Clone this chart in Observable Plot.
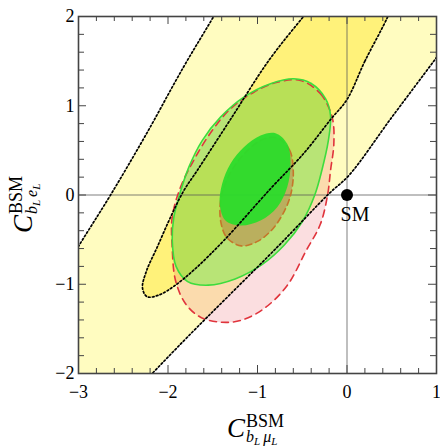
<!DOCTYPE html>
<html><head><meta charset="utf-8">
<script src="https://cdn.jsdelivr.net/npm/d3@7"></script>
<script src="https://cdn.jsdelivr.net/npm/@observablehq/plot@0.6"></script>
<style>body{margin:0;background:#fff} #chart svg text{font-family:"Liberation Serif","DejaVu Serif",serif}</style>
</head><body><div id="chart"></div>
<script>
// tick values
const xMajorTicks = [-3, -2, -1, 0, 1];
const yMajorTicks = [-2, -1, 0, 1, 2];
const xMinorTicks = [-2.8, -2.6, -2.4, -2.2, -1.8, -1.6, -1.4, -1.2, -0.8, -0.6, -0.4, -0.2, 0.2, 0.4, 0.6, 0.8];
const yMinorTicks = [-1.8, -1.6, -1.4, -1.2, -0.8, -0.6, -0.4, -0.2, 0.2, 0.4, 0.6, 0.8, 1.2, 1.4, 1.6, 1.8];

// contour outlines, [C_bLmuL, C_bLeL]
const outerBand = [[-3.6,-1.58],[-3.3,-1.08],[-3.0,-0.575],[-2.642,0.0],[-2.25,0.67],[-1.823,1.44],[-1.49,2.0],[-1.2,2.5],[-0.9,3.0],
  [0.3,3.4],[1.4,2.9],[1.6,2.35],[1.3,1.95],[0.989,1.526],[0.5,0.87],[0.02,0.218],[-0.203,0.013],[-0.78,-0.585],[-1.785,-1.594],
  [-2.177,-2.0],[-2.5,-2.33],[-2.8,-2.65],[-3.4,-2.9],[-3.8,-2.4]];
const innerBand = [[0.456,2.0],[0.2,1.5],[0.0,1.07],[-0.18,0.85],[-0.48,0.47],[-0.855,0.07],[-1.376,-0.51],[-1.70,-0.83],[-1.93,-1.02],
  [-2.10,-1.12],[-2.233,-1.14],[-2.285,-1.04],[-2.24,-0.85],[-2.121,-0.585],[-1.972,-0.249],[-1.823,0.05],[-1.674,0.274],[-1.3,0.85],
  [-0.874,1.507],[-0.486,2.0],[-0.15,2.4],[0.2,2.6],[0.45,2.5],[0.55,2.25]];
const redOuter = [[-0.52,1.283],[-0.296,1.134],[-0.166,0.872],[-0.147,0.574],[-0.184,0.275],[-0.215,0.013],[-0.296,-0.323],[-0.46,-0.63],
  [-0.668,-1.014],[-0.93,-1.275],[-1.19,-1.406],[-1.413,-1.425],[-1.637,-1.369],[-1.804,-1.219],[-1.916,-0.958],[-1.953,-0.585],
  [-1.953,-0.249],[-1.86,0.088],[-1.693,0.424],[-1.506,0.723],[-1.302,0.966],[-1.041,1.152],[-0.78,1.264]];
const greenOuter = [[-0.594,1.302],[-0.40,1.25],[-0.24,1.08],[-0.184,0.89],[-0.21,0.60],[-0.28,0.28],[-0.36,0.0],[-0.50,-0.30],[-0.70,-0.56],
  [-0.95,-0.78],[-1.25,-0.94],[-1.55,-1.01],[-1.78,-0.97],[-1.91,-0.80],[-1.953,-0.50],[-1.935,-0.25],[-1.879,-0.024],[-1.767,0.312],
  [-1.618,0.61],[-1.413,0.872],[-1.153,1.096],[-0.855,1.246]];
const brownInner = [[-0.78,0.64],[-0.64,0.50],[-0.60,0.25],[-0.63,0.0],[-0.70,-0.18],[-0.83,-0.38],[-1.0,-0.52],[-1.18,-0.57],[-1.34,-0.48],
  [-1.41,-0.30],[-1.41,-0.05],[-1.32,0.22],[-1.15,0.46],[-0.95,0.62]];
const greenInner = [[-0.799,0.693],[-0.668,0.574],[-0.631,0.35],[-0.668,0.088],[-0.78,-0.137],[-0.966,-0.286],[-1.19,-0.342],[-1.358,-0.286],
  [-1.422,-0.099],[-1.395,0.125],[-1.302,0.35],[-1.153,0.536],[-0.966,0.667]];
const smPoint = [{x: 0, y: 0, label: "SM"}];

const pts = a => a.map(([x, y]) => ({x, y}));
const curve = "catmull-rom-closed";
const shape = (a, o) => Plot.line(pts(a), {x: "x", y: "y", curve, clip: true, ...o});

const W = 440, H = 447, mL = 78, mR = 4, mT = 16, mB = 74;
const fw = W - mL - mR, fh = H - mT - mB;
const tickColor = "#444";
const serif = "'Liberation Serif', 'DejaVu Serif', serif";

const plot = Plot.plot({
  width: W, height: H, marginLeft: mL, marginRight: mR, marginTop: mT, marginBottom: mB,
  x: {domain: [-3, 1], label: null},
  y: {domain: [-2, 2], label: null},
  style: {fontFamily: serif, fontSize: "17px", background: "white", color: "black"},
  marks: [
    shape(outerBand, {fill: "#fffcc0", stroke: "none"}),
    shape(innerBand, {fill: "#fff27a", stroke: "none"}),
    shape(redOuter, {fill: "rgb(235,90,100)", fillOpacity: 0.2, stroke: "none"}),
    shape(greenOuter, {fill: "rgb(102,239,52)", fillOpacity: 0.45, stroke: "none"}),
    shape(brownInner, {fill: "rgb(190,95,60)", fillOpacity: 0.4, stroke: "none"}),
    Plot.ruleY([0], {stroke: "#555", strokeOpacity: 0.5, strokeWidth: 1.5}),
    Plot.ruleX([0], {stroke: "#555", strokeOpacity: 0.5, strokeWidth: 1.5}),
    shape(brownInner, {stroke: "#c4762a", strokeWidth: 1.6, strokeDasharray: "6,4"}),
    shape(greenInner, {fill: "#2bdc2b", fillOpacity: 0.95, stroke: "none"}),
    shape(redOuter, {stroke: "#e0343c", strokeWidth: 1.6, strokeDasharray: "7,5"}),
    shape(greenOuter, {stroke: "#3ddc3d", strokeWidth: 1.6}),
    shape(innerBand, {stroke: "black", strokeWidth: 1.7, strokeDasharray: "1.7,2.3"}),
    shape(outerBand, {stroke: "black", strokeWidth: 1.7, strokeDasharray: "1.7,2.3"}),
    Plot.dot(smPoint, {x: "x", y: "y", r: 6, fill: "black"}),
    Plot.text(smPoint, {x: "x", y: "y", text: "label", dx: 8, dy: 20, fontSize: 20, textAnchor: "middle", fontFamily: serif}),
    // inward ticks
    Plot.tickX(xMinorTicks, {x: d => d, insetTop: fh - 5, stroke: tickColor}),
    Plot.tickX(xMajorTicks, {x: d => d, insetTop: fh - 8, stroke: tickColor}),
    Plot.tickX(xMinorTicks, {x: d => d, insetBottom: fh - 5, stroke: tickColor}),
    Plot.tickX(xMajorTicks, {x: d => d, insetBottom: fh - 8, stroke: tickColor}),
    Plot.tickY(yMinorTicks, {y: d => d, insetRight: fw - 6, stroke: tickColor}),
    Plot.tickY(yMajorTicks, {y: d => d, insetRight: fw - 8, stroke: tickColor}),
    Plot.tickY(yMinorTicks, {y: d => d, insetLeft: fw - 6, stroke: tickColor}),
    Plot.tickY(yMajorTicks, {y: d => d, insetLeft: fw - 8, stroke: tickColor}),
    Plot.frame({stroke: tickColor, strokeWidth: 1.6}),
    Plot.axisX(xMajorTicks, {anchor: "bottom", tickSize: 0, tickPadding: 12, fontSize: 18, fontFamily: serif, tickFormat: "d", label: null}),
    Plot.axisY(yMajorTicks, {anchor: "left", tickSize: 0, tickPadding: 4, fontSize: 18, fontFamily: serif, tickFormat: "d", label: null})
  ]
});

document.getElementById("chart").appendChild(plot);

// axis titles C^BSM_{bL muL} and C^BSM_{bL eL}
const svg = d3.select(plot);
function axisTitle(transform, second) {
  const g = svg.append("g").attr("transform", transform)
    .attr("font-family", serif).attr("fill", "black").attr("text-anchor", "start");
  g.append("text").attr("x", 0).attr("y", 0).attr("font-size", 27).attr("font-style", "italic").text("C");
  g.append("text").attr("x", 19).attr("y", -10).attr("font-size", 18).text("BSM");
  const s = g.append("text").attr("x", 19).attr("y", 5).attr("font-size", 16).attr("font-style", "italic");
  s.append("tspan").text("b");
  s.append("tspan").attr("font-size", 11).attr("dy", 3).text("L");
  s.append("tspan").attr("dy", -3).attr("dx", 3).text(second);
  s.append("tspan").attr("font-size", 11).attr("dy", 3).text("L");
}
axisTitle("translate(227,437)", "μ");
axisTitle("translate(32,233) rotate(-90)", "e");
</script>
</body></html>
